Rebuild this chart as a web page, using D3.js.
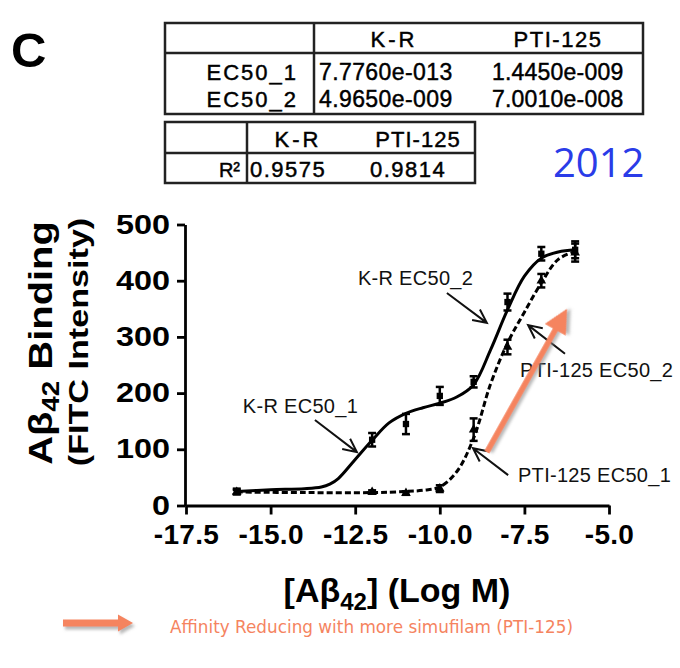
<!DOCTYPE html>
<html>
<head>
<meta charset="utf-8">
<script src="https://cdn.jsdelivr.net/npm/d3@7"></script>
<style>body{margin:0;background:#fff}</style>
</head>
<body>
<script>
// measured points (log M) and mean +/- error
const doseLog = [-16, -12, -11, -10, -9, -8, -7, -6];
const krMean = [25, 117, 145, 195, 220, 362, 448, 455];
const krErr = [5, 12, 18, 16, 10, 15, 12, 15];
const ptiMean = [24, 24, 22, 30, 135, 282, 400, 450];
const ptiErr = [4, 3, 3, 6, 20, 13, 12, 16];

// fitted curves
const krFitX = [-16, -15, -14, -13.5, -13.25, -13, -12.5, -12, -11.5, -11, -10.5, -10, -9.5, -9, -8.5, -8, -7.5, -7, -6.5, -6];
const krFitY = [25, 28, 30, 33, 38, 48, 82, 116, 147, 164, 174, 182, 193, 215, 277, 348, 408, 440, 451, 455];
const ptiFitX = [-16, -14, -12, -11, -10.5, -10, -9.5, -9, -8.5, -8, -7.5, -7, -6.5, -6];
const ptiFitY = [24, 23, 23, 25, 27, 33, 60, 120, 216, 289, 344, 396, 438, 452];

const xTicks = [-17.5, -15, -12.5, -10, -7.5, -5];
const yTicks = [0, 100, 200, 300, 400, 500];

// tables
const ecRows = ["EC50_1", "EC50_2"];
const ecCols = ["K-R", "PTI-125"];
const ecKR = ["7.7760e-013", "4.9650e-009"];
const ecPTI = ["1.4450e-009", "7.0010e-008"];
const r2Cols = ["K-R", "PTI-125"];
const r2Vals = ["0.9575", "0.9814"];

// annotations: label start, arrow from -> to (data units)
const notes = [
  { text: "K-R EC50_2", tx: -12.42, ty: 392, x1: -9.79, y1: 378, x2: -8.61, y2: 325 },
  { text: "K-R EC50_1", tx: -15.82, ty: 165, x1: -13.69, y1: 152, x2: -12.45, y2: 95 },
  { text: "PTI-125 EC50_2", tx: -7.63, ty: 229, x1: -6.30, y1: 270, x2: -7.39, y2: 321 },
  { text: "PTI-125 EC50_1", tx: -7.69, ty: 42, x1: -7.98, y1: 54, x2: -9.02, y2: 102 }
];
const shiftArrow = { x1: -8.61, y1: 95, x2: -6.24, y2: 350 };

const width = 680, height = 668;
const font = "'Liberation Sans', Arial, sans-serif";
const orange = "#f5845f";

const svg = d3.select("body").append("svg")
  .attr("width", width)
  .attr("height", height)
  .style("font-family", font);

const defs = svg.append("defs");
const shadow = defs.append("filter").attr("id", "shadow")
  .attr("x", "-20%").attr("y", "-20%").attr("width", "160%").attr("height", "160%");
shadow.append("feDropShadow")
  .attr("dx", 2).attr("dy", 3).attr("stdDeviation", 1.5)
  .attr("flood-color", "#888").attr("flood-opacity", 0.6);

// panel letter
svg.append("text")
  .attr("x", 11).attr("y", 67)
  .attr("font-size", 49).attr("font-weight", "bold")
  .text("C");

// table text is a little heavier than regular
function cell(g, tx, ty, str, size, anchor, spacing) {
  return g.append("text").attr("x", tx).attr("y", ty)
    .attr("text-anchor", anchor).attr("font-size", size)
    .attr("letter-spacing", spacing)
    .attr("stroke", "#000").attr("stroke-width", 0.45)
    .text(str);
}

// EC50 table
const t1 = svg.append("g");
t1.append("rect").attr("x", 165).attr("y", 23).attr("width", 478).attr("height", 91)
  .attr("fill", "none").attr("stroke", "#222").attr("stroke-width", 2.5);
t1.append("line").attr("x1", 165).attr("x2", 643).attr("y1", 53).attr("y2", 53)
  .attr("stroke", "#222").attr("stroke-width", 2.5);
t1.append("line").attr("x1", 314).attr("x2", 314).attr("y1", 23).attr("y2", 114)
  .attr("stroke", "#222").attr("stroke-width", 2.5);
const ecColX = [394, 558];
ecCols.forEach((c, i) => cell(t1, ecColX[i], 47, c, 22, "middle", i === 0 ? 3 : 1.5));
ecRows.forEach((r, i) => {
  const by = 80 + i * 27;
  cell(t1, 298, by, r, 22, "end", 2);
  cell(t1, 319, by, ecKR[i], 23, "start", 0.4);
  cell(t1, 492, by, ecPTI[i], 23, "start", 0.2);
});

// R² table
const t2 = svg.append("g");
t2.append("rect").attr("x", 165).attr("y", 122).attr("width", 310).attr("height", 61)
  .attr("fill", "none").attr("stroke", "#222").attr("stroke-width", 2.5);
t2.append("line").attr("x1", 165).attr("x2", 475).attr("y1", 153).attr("y2", 153)
  .attr("stroke", "#222").attr("stroke-width", 2.5);
t2.append("line").attr("x1", 247).attr("x2", 247).attr("y1", 122).attr("y2", 183)
  .attr("stroke", "#222").attr("stroke-width", 2.5);
const r2ColX = [298, 418];
r2Cols.forEach((c, i) => cell(t2, r2ColX[i], 147, c, 22, "middle", i === 0 ? 3 : 1));
cell(t2, 240, 177, "R²", 20, "end", 0);
const r2ValX = [250, 370];
r2Vals.forEach((v, i) => cell(t2, r2ValX[i], 177, v, 22, "start", 1.5));

// year
svg.append("text")
  .attr("x", 553).attr("y", 177)
  .attr("font-family", "'Open Sans', 'Noto Sans', sans-serif")
  .attr("font-size", 40).attr("fill", "#2a3ce8")
  .text("2012");

// scales
const x = d3.scaleLinear().domain([-17.5, -5]).range([186, 609]);
const y = d3.scaleLinear().domain([0, 500]).range([505.5, 224.5]);

// x axis
svg.append("g")
  .attr("transform", `translate(0,${y(0)})`)
  .call(d3.axisBottom(x).tickValues(xTicks).tickFormat(d => d.toFixed(1))
    .tickSizeOuter(0).tickSizeInner(9).tickPadding(10))
  .call(sel => sel.select(".domain").attr("stroke", "#000").attr("stroke-width", 2.8))
  .call(sel => sel.selectAll(".tick line").attr("stroke", "#000").attr("stroke-width", 2.8))
  .call(sel => sel.selectAll("text")
    .attr("fill", "#000").style("font-family", font)
    .style("font-size", "28px").style("font-weight", "bold")
    .attr("letter-spacing", 0.3));

// y axis
const sx = 1.2;
svg.append("g")
  .attr("transform", `translate(${x(-17.5) - 1},0)`)
  .call(d3.axisLeft(y).tickValues(yTicks).tickFormat(d3.format("d"))
    .tickSizeOuter(0).tickSizeInner(8).tickPadding(7))
  .call(sel => sel.select(".domain").attr("stroke", "#000").attr("stroke-width", 2.8))
  .call(sel => sel.selectAll(".tick line").attr("stroke", "#000").attr("stroke-width", 2.8))
  .call(sel => sel.selectAll("text")
    .attr("fill", "#000").style("font-family", font)
    .style("font-size", "27px").style("font-weight", "bold")
    .attr("x", -15 / sx).attr("transform", `scale(${sx},1)`));

// y title
const yt1 = svg.append("text")
  .attr("transform", "translate(52,343) rotate(-90) scale(1.21,1)")
  .attr("text-anchor", "middle").attr("font-size", 33).attr("font-weight", "bold");
yt1.append("tspan").text("Aβ");
yt1.append("tspan").attr("font-size", 23).attr("dy", 7).text("42");
yt1.append("tspan").attr("dy", -7).text(" Binding");

svg.append("text")
  .attr("transform", "translate(88,342) rotate(-90) scale(1.22,1)")
  .attr("text-anchor", "middle").attr("font-size", 28).attr("font-weight", "bold")
  .text("(FITC Intensity)");

// x title
const xt = svg.append("text")
  .attr("x", 397).attr("y", 602)
  .attr("text-anchor", "middle").attr("font-size", 34).attr("font-weight", "bold");
xt.append("tspan").text("[Aβ");
xt.append("tspan").attr("font-size", 24).attr("dy", 8).text("42");
xt.append("tspan").attr("dy", -8).text("] (Log M)");

// fit curves
const line = d3.line().x(d => x(d[0])).y(d => y(d[1])).curve(d3.curveCatmullRom.alpha(0.5));
svg.append("path")
  .attr("d", line(krFitX.map((v, i) => [v, krFitY[i]])))
  .attr("fill", "none").attr("stroke", "#000").attr("stroke-width", 3);
svg.append("path")
  .attr("d", line(ptiFitX.map((v, i) => [v, ptiFitY[i]])))
  .attr("fill", "none").attr("stroke", "#000").attr("stroke-width", 3)
  .attr("stroke-dasharray", "6,3");

// error bars + markers
function drawSeries(means, errs, shape) {
  const g = svg.append("g");
  doseLog.forEach((d, i) => {
    const cx = x(d);
    const lo = y(means[i] - errs[i]);
    const hi = y(means[i] + errs[i]);
    g.append("line").attr("x1", cx).attr("x2", cx).attr("y1", lo).attr("y2", hi)
      .attr("stroke", "#000").attr("stroke-width", 2.5);
    [lo, hi].forEach(v => {
      g.append("line").attr("x1", cx - 4).attr("x2", cx + 4).attr("y1", v).attr("y2", v)
        .attr("stroke", "#000").attr("stroke-width", 2.5);
    });
    g.append("path")
      .attr("transform", `translate(${cx},${y(means[i])})`)
      .attr("d", d3.symbol().type(shape).size(40)())
      .attr("fill", "#000");
  });
}
drawSeries(krMean, krErr, d3.symbolSquare);
drawSeries(ptiMean, ptiErr, d3.symbolTriangle);

// annotations
const ann = svg.append("g");
notes.forEach(n => {
  ann.append("text")
    .attr("x", x(n.tx)).attr("y", y(n.ty))
    .attr("font-size", 20).attr("fill", "#111")
    .attr("letter-spacing", 0.3)
    .text(n.text);
  const ax1 = x(n.x1), ay1 = y(n.y1), ax2 = x(n.x2), ay2 = y(n.y2);
  const ang = Math.atan2(ay2 - ay1, ax2 - ax1);
  const hl = 15, ha = 0.45;
  const p1 = [ax2 - hl * Math.cos(ang - ha), ay2 - hl * Math.sin(ang - ha)];
  const p2 = [ax2 - hl * Math.cos(ang + ha), ay2 - hl * Math.sin(ang + ha)];
  ann.append("path")
    .attr("d", `M${ax1},${ay1}L${ax2},${ay2}M${p1[0]},${p1[1]}L${ax2},${ay2}L${p2[0]},${p2[1]}`)
    .attr("fill", "none").attr("stroke", "#111").attr("stroke-width", 2);
});

// orange shift arrow
function fatArrow(g, x1, y1, x2, y2, shaft, headW, headL) {
  const ang = Math.atan2(y2 - y1, x2 - x1);
  const len = Math.hypot(x2 - x1, y2 - y1);
  const a = g.append("g")
    .attr("transform", `translate(${x1},${y1}) rotate(${ang * 180 / Math.PI})`)
    .attr("filter", "url(#shadow)");
  a.append("path")
    .attr("d", `M0,${-shaft / 2}L${len - headL},${-shaft / 2}L${len - headL},${-headW / 2}` +
      `L${len},0L${len - headL},${headW / 2}L${len - headL},${shaft / 2}L0,${shaft / 2}Z`)
    .attr("fill", orange);
}
fatArrow(svg, x(shiftArrow.x1), y(shiftArrow.y1), x(shiftArrow.x2), y(shiftArrow.y2), 5.5, 24, 24);

// legend
fatArrow(svg, 63, 623, 133, 623, 7, 17, 15);
svg.append("text")
  .attr("x", 170).attr("y", 633)
  .attr("font-family", "'DejaVu Sans', Verdana, sans-serif")
  .attr("font-size", 17.5).attr("fill", orange)
  .attr("textLength", 403).attr("lengthAdjust", "spacingAndGlyphs")
  .text("Affinity Reducing with more simufilam (PTI-125)");
</script>
</body>
</html>
